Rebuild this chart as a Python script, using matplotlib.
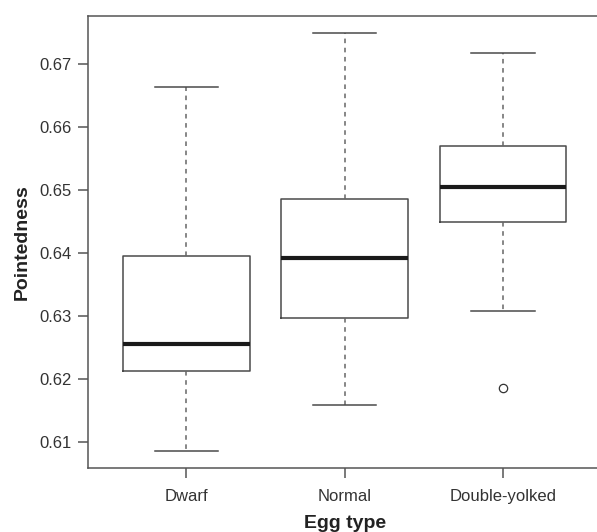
import matplotlib
matplotlib.use("Agg")
import matplotlib.pyplot as plt

plt.rcParams['font.family'] = ['Liberation Sans', 'DejaVu Sans']

# Five-number summaries per egg type
egg_types = ["Dwarf", "Normal", "Double-yolked"]
whisker_low = [0.6086, 0.6158, 0.6308]
q1 = [0.6212, 0.6297, 0.6450]
median = [0.6255, 0.6392, 0.6505]
q3 = [0.6396, 0.6485, 0.6570]
whisker_high = [0.6663, 0.6750, 0.6718]
outliers = [[], [], [0.6186]]

stats = []
for i, name in enumerate(egg_types):
    stats.append({
        "label": name,
        "whislo": whisker_low[i],
        "q1": q1[i],
        "med": median[i],
        "q3": q3[i],
        "whishi": whisker_high[i],
        "fliers": outliers[i],
    })

fig = plt.figure(figsize=(5.97, 5.32), dpi=100)
ax = fig.add_axes([0.1479, 0.1209, 0.8588, 0.849])

line_col = "#4a4a4a"
ax.bxp(stats, positions=[1, 2, 3], widths=0.8, patch_artist=False,
       boxprops=dict(color=line_col, linewidth=1.1),
       medianprops=dict(color="#1a1a1a", linewidth=3),
       whiskerprops=dict(color="#666666", linewidth=1.1, linestyle=(0, (3, 3))),
       capprops=dict(color=line_col, linewidth=1.1),
       flierprops=dict(marker="o", markersize=6, markerfacecolor="none",
                       markeredgecolor="#333333", markeredgewidth=0.9))

ax.set_xlim(0.38, 3.62)
ax.set_ylim(0.60592, 0.67762)
ax.set_yticks([0.61, 0.62, 0.63, 0.64, 0.65, 0.66, 0.67])
ax.set_yticklabels(["0.61", "0.62", "0.63", "0.64", "0.65", "0.66", "0.67"])

for side in ax.spines.values():
    side.set_color("#555555")
    side.set_linewidth(1.1)

ax.tick_params(axis="both", colors="#555555", labelcolor="#333333",
               labelsize=12, length=7, width=1.1)
ax.tick_params(axis="y", pad=5)
ax.tick_params(axis="x", pad=8)

ax.set_xlabel("Egg type", fontsize=14, fontweight="bold", color="#222222", labelpad=8)
ax.set_ylabel("Pointedness", fontsize=14, fontweight="bold", color="#222222", labelpad=6)

fig.savefig("out.png", dpi=100)
